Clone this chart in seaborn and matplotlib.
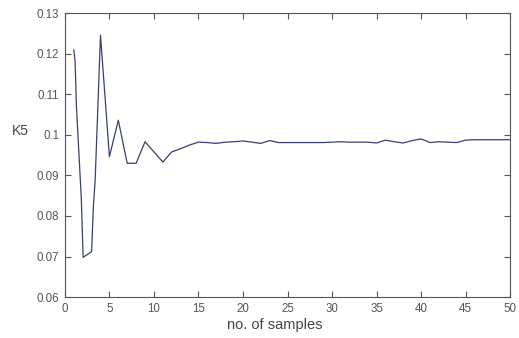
import matplotlib
matplotlib.use("Agg")
import matplotlib.pyplot as plt
import seaborn as sns
import pandas as pd

# samples (a few extra points at the start where the curve has kinks)
samples = [1, 1.15, 1.3, 1.85, 2.05, 3.0, 3.2, 3.4, 4, 5, 6, 7, 8, 9, 10,
           11, 12, 13, 14, 15, 16, 17, 18, 19, 20, 21, 22, 23, 24, 25, 26,
           27, 28, 29, 30, 31, 32, 33, 34, 35, 36, 37, 38, 39, 40, 41, 42,
           43, 44, 45, 46, 47, 48, 49, 50]
k5 = [0.121, 0.118, 0.107, 0.084, 0.0698, 0.0712, 0.0823, 0.0888, 0.1246,
      0.0946, 0.1036, 0.093, 0.093, 0.0983, 0.0958, 0.0933, 0.0958, 0.0966,
      0.0975, 0.0982, 0.0981, 0.0979, 0.0982, 0.0983, 0.0985, 0.0982, 0.0979,
      0.0986, 0.0981, 0.0981, 0.0981, 0.0981, 0.0981, 0.0981, 0.0982, 0.0983,
      0.0982, 0.0982, 0.0982, 0.098, 0.0987, 0.0983, 0.098, 0.0986, 0.099,
      0.0981, 0.0983, 0.0982, 0.0981, 0.0987, 0.0988, 0.0988, 0.0988, 0.0988,
      0.0988]

xticks = [0, 5, 10, 15, 20, 25, 30, 35, 40, 45, 50]
yticks = [0.06, 0.07, 0.08, 0.09, 0.1, 0.11, 0.12, 0.13]
ytick_labels = ["0.06", "0.07", "0.08", "0.09", "0.1", "0.11", "0.12", "0.13"]

df = pd.DataFrame({"samples": samples, "K5": k5})

sns.set_style("ticks")
plt.rcParams["font.family"] = ["Liberation Sans", "DejaVu Sans"]

fig = plt.figure(figsize=(5.19, 3.38), dpi=100)
ax = fig.add_axes([0.125, 0.121, 0.858, 0.84])
sns.lineplot(data=df, x="samples", y="K5", color="#3a3f72", linewidth=0.9, ax=ax)

ax.set_xlim(0, 50)
ax.set_ylim(0.06, 0.13)
ax.set_xticks(xticks)
ax.set_yticks(yticks)
ax.set_yticklabels(ytick_labels)
ax.tick_params(direction="in", top=True, right=True, length=4, width=0.8,
               labelsize=8.3, colors="#555555", pad=4)
for s in ax.spines.values():
    s.set_color("#555555")
    s.set_linewidth(0.8)

ax.set_xlabel("no. of samples", fontsize=10.5, color="#444444")
ax.xaxis.set_label_coords(0.471, -0.072)
ax.set_ylabel("K5", fontsize=10, color="#444444", rotation=0)
ax.yaxis.set_label_coords(-0.10, 0.56)

fig.savefig("out.png", dpi=100)
